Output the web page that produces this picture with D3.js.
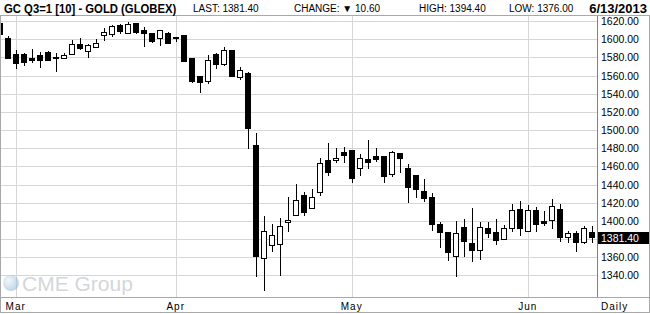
<!DOCTYPE html>
<html lang="en">
<head>
  <meta charset="UTF-8" />
  <title>GC Q3=1 Gold candlestick</title>
  <style>
    body { margin: 0; background: #fff; }
    text { font-family: "Liberation Sans", Arial, sans-serif; }
  </style>
</head>
<body>
  <div id="chart"></div>
  <script src="https://d3js.org/d3.v7.min.js"></script>
  <script>
    // daily bars, Feb 27 - Jun 13 2013
    const dates = ["2013-02-27","2013-02-28",
      "2013-03-01","2013-03-04","2013-03-05","2013-03-06","2013-03-07","2013-03-08","2013-03-11","2013-03-12","2013-03-13","2013-03-14",
      "2013-03-15","2013-03-18","2013-03-19","2013-03-20","2013-03-21","2013-03-22","2013-03-25","2013-03-26","2013-03-27","2013-03-28",
      "2013-04-01","2013-04-02","2013-04-03","2013-04-04","2013-04-05","2013-04-08","2013-04-09","2013-04-10","2013-04-11","2013-04-12",
      "2013-04-15","2013-04-16","2013-04-17","2013-04-18","2013-04-19","2013-04-22","2013-04-23","2013-04-24","2013-04-25","2013-04-26",
      "2013-04-29","2013-04-30",
      "2013-05-01","2013-05-02","2013-05-03","2013-05-06","2013-05-07","2013-05-08","2013-05-09","2013-05-10","2013-05-13","2013-05-14",
      "2013-05-15","2013-05-16","2013-05-17","2013-05-20","2013-05-21","2013-05-22","2013-05-23","2013-05-24","2013-05-28","2013-05-29",
      "2013-05-30","2013-05-31",
      "2013-06-03","2013-06-04","2013-06-05","2013-06-06","2013-06-07","2013-06-10","2013-06-11","2013-06-12","2013-06-13"];

    const open = [1616.7,1601,
      1582.6,1582.6,1578.2,1581.5,1584.8,1579.6,1578.9,1583.3,1594.4,1585.9,
      1591,1604.3,1604.6,1615.2,1606.5,1617.5,1609,1606.5,1601,1606.5,
      1602,1603.5,1578.5,1558.4,1553.2,1582.6,1572.3,1587,1558,1561.7,
      1483.2,1358.4,1373.1,1374.2,1397.8,1406.1,1428.1,1413.8,1431.5,1466.7,
      1466.1,1475.8,
      1477,1457.5,1468.1,1471.4,1471.4,1451,1474,1458.2,1450.5,1431.8,
      1425.2,1395.5,1387.5,1361,1392.9,1375.6,1367.6,1391.8,1387.5,1379.7,
      1391.8,1412.7,
      1388.1,1411.6,1399.5,1400.6,1412.7,1382,1386.3,1376.4,1387.4];
    const high = [1618,1603.5,
      1588,1584.5,1589.2,1585.9,1587,1585,1584.5,1599,1601,1594.4,
      1600,1612,1615.6,1617,1619.2,1617.5,1613.7,1606.5,1610,1607.6,
      1602.5,1603.5,1578.5,1558.4,1582.6,1584.5,1591,1588,1569,1564.2,
      1496.4,1405.4,1396.6,1402.8,1426.6,1440.6,1431.8,1434.8,1469.5,1486,
      1479.9,1481,
      1478,1473.3,1489,1480.2,1471.4,1477,1474,1463,1450.5,1445.7,
      1431,1398.8,1387.5,1399.5,1401.7,1414.2,1398.8,1398.8,1402.2,1395.5,
      1418.6,1421.5,
      1417.8,1414.9,1410.6,1423.7,1418.2,1388.5,1388.5,1394,1394.4];
    const low = [1602,1577.9,
      1566.8,1570.8,1574.1,1568.6,1576,1564,1578.9,1583,1588,1579,
      1591,1598,1602.4,1605.4,1606.5,1605.4,1591.7,1596,1592.8,1594.7,
      1596.5,1575,1551.4,1541,1550.3,1567.5,1570.8,1558.4,1554.7,1478.8,
      1338.5,1323,1365.7,1339.8,1387.7,1406,1405.4,1413.8,1427.7,1449.7,
      1464,1463.4,
      1441.3,1449.7,1457,1465,1442,1448.6,1453,1420,1425.5,1420.8,
      1388.5,1369.8,1355.5,1338.5,1360.6,1354.5,1356.6,1381.5,1373,1379.7,
      1388.2,1383.7,
      1388.1,1387.8,1394.7,1391.4,1376.4,1375.3,1365.4,1374.2,1376];
    const close = [1604.6,1579,
      1572.7,1574.1,1576.4,1576.4,1576.4,1579,1581.5,1594.4,1590,1593.3,
      1595.4,1607.6,1613.7,1608.7,1616.4,1607.6,1606.5,1597.2,1609,1595.5,
      1601,1575.2,1553.2,1552.1,1576.7,1572.3,1587.7,1558.7,1565.7,1501.5,
      1360.6,1388.5,1384,1394,1400,1422.6,1409,1426,1463.4,1453.5,
      1468.8,1471.7,
      1446.4,1468.9,1464.1,1468.1,1448.6,1475.5,1468.4,1436.5,1434.3,1424.4,
      1395.8,1387.5,1365.4,1385.6,1377.5,1367.6,1392.9,1386.3,1378.7,1391.8,
      1411.2,1391.8,
      1411.6,1396.2,1397.1,1416,1382,1386.3,1376.4,1391.8,1381.4];

    const priceTicks = d3.range(1340, 1621, 20);
    const monthNames = ["Mar", "Apr", "May", "Jun"];
    const lastPrice = 1381.40;

    const W = 650, H = 314,
          plotTop = 15.5, plotRight = 597, plotBottom = 297;

    const bars = dates.map((d, i) => ({
      i: i, date: d3.timeParse("%Y-%m-%d")(d),
      o: open[i], h: high[i], l: low[i], c: close[i]
    }));

    const x = d3.scaleLinear().domain([0, bars.length - 1]).range([-0.3, 591.7]);
    const y = d3.scaleLinear().domain([1340, 1620]).range([275.4, 21]);

    const svg = d3.select("#chart").append("svg")
      .attr("width", W).attr("height", H);

    svg.append("rect").attr("width", W).attr("height", H).attr("fill", "#fff");

    // month starts = first bar of each month
    const monthStarts = bars.filter((b, k) => k > 0 && b.date.getMonth() !== bars[k - 1].date.getMonth());

    // grid
    const grid = svg.append("g").attr("stroke", "#d6d6d6").attr("shape-rendering", "crispEdges");
    grid.selectAll("line.h").data(priceTicks).enter().append("line")
      .attr("x1", 0).attr("x2", plotRight)
      .attr("y1", d => Math.round(y(d)) + 0.5).attr("y2", d => Math.round(y(d)) + 0.5);
    grid.selectAll("line.v").data(monthStarts).enter().append("line")
      .attr("x1", d => Math.round(x(d.i)) + 0.5).attr("x2", d => Math.round(x(d.i)) + 0.5)
      .attr("y1", plotTop).attr("y2", plotBottom);

    // watermark
    const logo = svg.append("g").attr("opacity", 0.5);
    const grad = svg.append("defs").append("radialGradient").attr("id", "globe")
      .attr("cx", "35%").attr("cy", "35%").attr("r", "70%");
    grad.append("stop").attr("offset", "0%").attr("stop-color", "#e6f0f8");
    grad.append("stop").attr("offset", "100%").attr("stop-color", "#7fa9cc");
    logo.append("circle").attr("cx", 11).attr("cy", 283).attr("r", 8).attr("fill", "url(#globe)");
    logo.append("text").attr("x", 22).attr("y", 291)
      .attr("font-size", 21).attr("fill", "#a9b0b8").text("CME Group");

    // candles
    const candles = svg.append("g").attr("shape-rendering", "crispEdges");
    const cg = candles.selectAll("g").data(bars).enter().append("g");
    cg.append("line")
      .attr("x1", d => Math.round(x(d.i)) + 0.5).attr("x2", d => Math.round(x(d.i)) + 0.5)
      .attr("y1", d => y(d.h)).attr("y2", d => y(d.l))
      .attr("stroke", "#000");
    cg.append("rect")
      .attr("x", d => Math.round(x(d.i)) - 2.5)
      .attr("width", 5)
      .attr("y", d => y(Math.max(d.o, d.c)))
      .attr("height", d => Math.max(1, Math.abs(y(d.o) - y(d.c))))
      .attr("fill", d => d.c >= d.o ? "#fff" : "#000")
      .attr("stroke", "#000");

    // frame
    const frame = svg.append("g").attr("shape-rendering", "crispEdges").attr("fill", "none");
    frame.append("line").attr("x1", 0).attr("x2", W).attr("y1", plotTop).attr("y2", plotTop).attr("stroke", "#a8a8a8");
    frame.append("line").attr("x1", 0).attr("x2", W).attr("y1", plotBottom + 0.5).attr("y2", plotBottom + 0.5).attr("stroke", "#a8a8a8");
    frame.append("line").attr("x1", plotRight + 0.5).attr("x2", plotRight + 0.5).attr("y1", plotTop).attr("y2", plotBottom).attr("stroke", "#808080");
    frame.append("rect").attr("x", 0.5).attr("y", plotTop).attr("width", W - 1).attr("height", H - plotTop - 1.5).attr("stroke", "#a8a8a8");

    // right price axis
    const yAxis = svg.append("g");
    yAxis.selectAll("text").data(priceTicks).enter().append("text")
      .attr("x", 601).attr("y", d => y(d) + 4)
      .attr("font-size", 10.5).attr("fill", "#000")
      .text(d => d3.format(".2f")(d));

    yAxis.append("rect").attr("x", 598).attr("y", Math.round(y(lastPrice)) - 6)
      .attr("width", 51).attr("height", 12).attr("fill", "#000");
    yAxis.append("text").attr("x", 601).attr("y", y(lastPrice) + 4)
      .attr("font-size", 10.5).attr("fill", "#fff").text(d3.format(".2f")(lastPrice));

    // month labels
    svg.append("g").selectAll("text").data(monthStarts).enter().append("text")
      .attr("x", d => x(d.i)).attr("y", 310)
      .attr("text-anchor", "middle").attr("font-size", 10).attr("letter-spacing", 1)
      .text((d, k) => monthNames[k]);
    svg.append("text").attr("x", 601).attr("y", 310)
      .attr("font-size", 10).attr("letter-spacing", 1).text("Daily");

    // header
    const head = svg.append("g");
    head.append("text").attr("transform", "translate(4,12.5) scale(0.87,1)")
      .attr("font-size", 13).attr("font-weight", "bold")
      .text("GC Q3=1 [10] - GOLD (GLOBEX)");
    head.append("text").attr("x", 193).attr("y", 12).attr("font-size", 10)
      .text("LAST: " + d3.format(".2f")(lastPrice));
    head.append("text").attr("x", 294).attr("y", 12).attr("font-size", 10)
      .text("CHANGE: \u25BC 10.60");
    head.append("text").attr("x", 419).attr("y", 12).attr("font-size", 10)
      .text("HIGH: 1394.40");
    head.append("text").attr("x", 509).attr("y", 12).attr("font-size", 10)
      .text("LOW: 1376.00");
    head.append("text").attr("x", 647).attr("y", 12.5).attr("text-anchor", "end")
      .attr("font-size", 13).attr("font-weight", "bold")
      .text("6/13/2013");
  </script>
</body>
</html>
